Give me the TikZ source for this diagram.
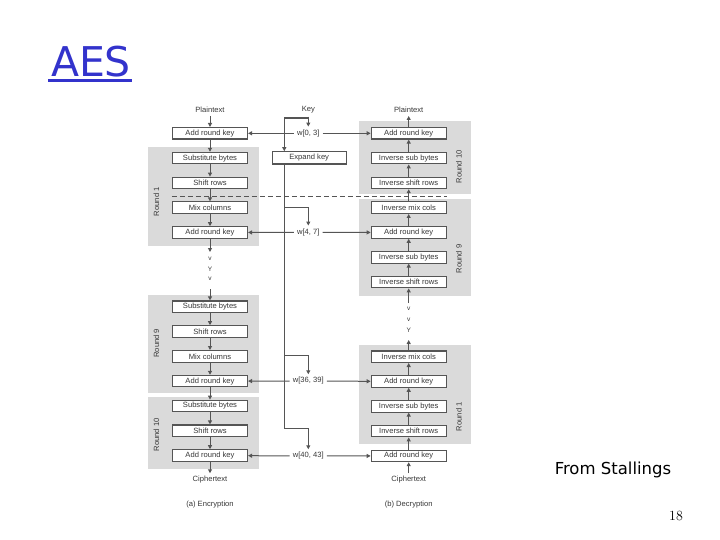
\documentclass[tikz,border=0pt]{standalone}
\usepackage{fontspec}
\newfontfamily\diagfont{Liberation Sans}
\newfontfamily\titlefont{DejaVu Sans}
\usepackage{tikz}
\usetikzlibrary{arrows.meta, positioning, calc}
\usepackage{xcolor}
\definecolor{aesblue}{RGB}{51,51,204}
\definecolor{boxline}{RGB}{85,85,85}
\definecolor{panelgray}{RGB}{218,218,218}
\definecolor{txtgray}{RGB}{55,55,55}

\begin{document}
\begin{tikzpicture}[
    x=1pt, y=-1pt,
    box/.style={rectangle, draw=boxline, line width=1.1pt, fill=white, minimum width=75pt, minimum height=11.5pt, inner sep=0pt, font=\diagfont\fontsize{7.6}{9}\selectfont, text=txtgray},
    lbl/.style={inner sep=3pt, font=\diagfont\fontsize{7.6}{9}\selectfont, text=txtgray},
    dotlbl/.style={inner sep=0pt, font=\diagfont\fontsize{6.5}{7}\selectfont, text=txtgray},
    roundlbl/.style={rotate=90, inner sep=0pt, font=\diagfont\fontsize{7.6}{9}\selectfont, text=txtgray},
    arrow/.style={-{Triangle[length=4pt, width=4pt]}, line width=1pt, draw=boxline},
    keyline/.style={line width=1.2pt, draw=boxline},
    panel/.style={fill=panelgray},
    node distance=12.2pt
]
    \useasboundingbox (0,0) rectangle (720,540);

    % title and slide notes
    \node[inner sep=0pt, font=\titlefont\fontsize{41}{41}\selectfont, text=aesblue] (title) at (91,62) {AES};
    \draw[aesblue, line width=2.5pt] (48,80.7) -- (132,80.7);
    \node[inner sep=0pt, font=\titlefont\fontsize{16.5}{17}\selectfont] (source) at (613,469.5) {From Stallings};
    \node[inner sep=0pt, font=\fontsize{14}{14}\selectfont] (pageno) at (676,516) {18};

    % grey round panels
    \fill[panel] (148.3,146.7) rectangle (259.3,245.7);
    \fill[panel] (148.3,295) rectangle (259.3,392.7);
    \fill[panel] (148.3,396.7) rectangle (259.3,469.3);
    \fill[panel] (359,121) rectangle (470.7,194);
    \fill[panel] (359,199) rectangle (470.7,295.7);
    \fill[panel] (359,345) rectangle (470.7,444.3);

    \node[roundlbl] (rl1) at (156.5,201.7) {Round 1};
    \node[roundlbl] (rl9) at (156.5,343.3) {Round 9};
    \node[roundlbl] (rl10) at (156.5,435) {Round 10};
    \node[roundlbl] (rr10) at (458.8,166.7) {Round 10};
    \node[roundlbl] (rr9) at (458.8,259) {Round 9};
    \node[roundlbl] (rr1) at (458.8,416.7) {Round 1};

    % encryption
    \node[lbl] (ptL) at (210,110) {Plaintext};
    \node[box] (e0) at (210,133.3) {Add round key};
    \node[box, below=of e0] (e1) {Substitute bytes};
    \node[box, below=of e1] (e2) {Shift rows};
    \node[box, below=of e2] (e3) {Mix columns};
    \node[box, below=of e3] (e4) {Add round key};
    \node[box] (e5) at (210,306.7) {Substitute bytes};
    \node[box, below=of e5] (e6) {Shift rows};
    \node[box, below=of e6] (e7) {Mix columns};
    \node[box, below=of e7] (e8) {Add round key};
    \node[box, below=of e8] (e9) {Substitute bytes};
    \node[box, below=of e9] (e10) {Shift rows};
    \node[box, below=of e10] (e11) {Add round key};
    \node[lbl] (ctL) at (210,480) {Ciphertext};
    \node[lbl] (capL) at (210,504.3) {(a) Encryption};

    % decryption
    \node[lbl] (ptR) at (408.7,110) {Plaintext};
    \node[box] (d0) at (408.7,133.3) {Add round key};
    \node[box, below=of d0] (d1) {Inverse sub bytes};
    \node[box, below=of d1] (d2) {Inverse shift rows};
    \node[box, below=of d2] (d3) {Inverse mix cols};
    \node[box, below=of d3] (d4) {Add round key};
    \node[box, below=of d4] (d5) {Inverse sub bytes};
    \node[box, below=of d5] (d6) {Inverse shift rows};
    \node[box] (d7) at (408.7,356.7) {Inverse mix cols};
    \node[box, below=of d7] (d8) {Add round key};
    \node[box, below=of d8] (d9) {Inverse sub bytes};
    \node[box, below=of d9] (d10) {Inverse shift rows};
    \node[box, below=of d10] (d11) {Add round key};
    \node[lbl] (ctR) at (408.7,480) {Ciphertext};
    \node[lbl] (capR) at (408.7,504.3) {(b) Decryption};

    % key schedule
    \node[lbl] (key) at (308.3,110) {Key};
    \node[lbl] (w0) at (308.3,133.3) {w[0, 3]};
    \node[box, minimum width=73.7pt, minimum height=12.3pt] (expand) at (309.2,157.9) {Expand key};
    \node[lbl] (w1) at (308.3,232.3) {w[4, 7]};
    \node[lbl] (w9) at (308.3,381) {w[36, 39]};
    \node[lbl] (w10) at (308.3,456) {w[40, 43]};

    \coordinate (kbus) at (284.3,118);
    \coordinate (b1) at (284.3,207.3);
    \coordinate (b9) at (284.3,355.7);
    \coordinate (b10) at (284.3,428.3);
    \coordinate (dash) at (0,196);

    % elided rounds
    \foreach \y/\c [count=\i] in {259/v, 269/Y, 279/v}
        \node[dotlbl] (dl\i) at (210,\y) {\c};
    \foreach \y/\c [count=\i] in {308.3/v, 320/v, 330/Y}
        \node[dotlbl] (dr\i) at (408.7,\y) {\c};
    \coordinate (eout) at (210,252);
    \coordinate (ein) at (210,289.3);
    \coordinate (dout) at (408.7,340);
    \coordinate (din) at (408.7,303);

    \draw[dashed, draw=boxline, line width=0.8pt, dash pattern=on 5pt off 3pt] (e0.west |- dash) -- (d0.east |- dash);

    % data path arrows
    \draw[arrow] (ptL) -- (e0);
    \foreach \a/\b in {e0/e1, e1/e2, e2/e3, e3/e4, e5/e6, e6/e7, e7/e8, e8/e9, e9/e10, e10/e11}
        \draw[arrow] (\a) -- (\b);
    \draw[arrow] (e4) -- (eout);
    \draw[arrow] (ein) -- (e5);
    \draw[arrow] (e11) -- (ctL);

    \draw[arrow] (ctR) -- (d11);
    \foreach \a/\b in {d11/d10, d10/d9, d9/d8, d8/d7, d6/d5, d5/d4, d4/d3, d3/d2, d2/d1, d1/d0}
        \draw[arrow] (\a) -- (\b);
    \draw[arrow] (d7) -- (dout);
    \draw[arrow] (din) -- (d6);
    \draw[arrow] (d0) -- (ptR);

    % key arrows
    \draw[arrow] (key) -- (w0);
    \draw[keyline] (key.south |- kbus) -- (kbus);
    \draw[arrow] (kbus) -- (kbus |- expand.north);
    \draw[keyline] (kbus |- expand.south) -- (b10);
    \foreach \b/\w in {b1/w1, b9/w9, b10/w10}
        \draw[arrow, line width=1.5pt] (\b) -| (\w.north);
    \foreach \w/\l/\r in {w0/e0/d0, w1/e4/d4, w9/e8/d8, w10/e11/d11} {
        \draw[arrow] (\w) -- (\l);
        \draw[arrow] (\w) -- (\r);
    }
\end{tikzpicture}
\end{document}
